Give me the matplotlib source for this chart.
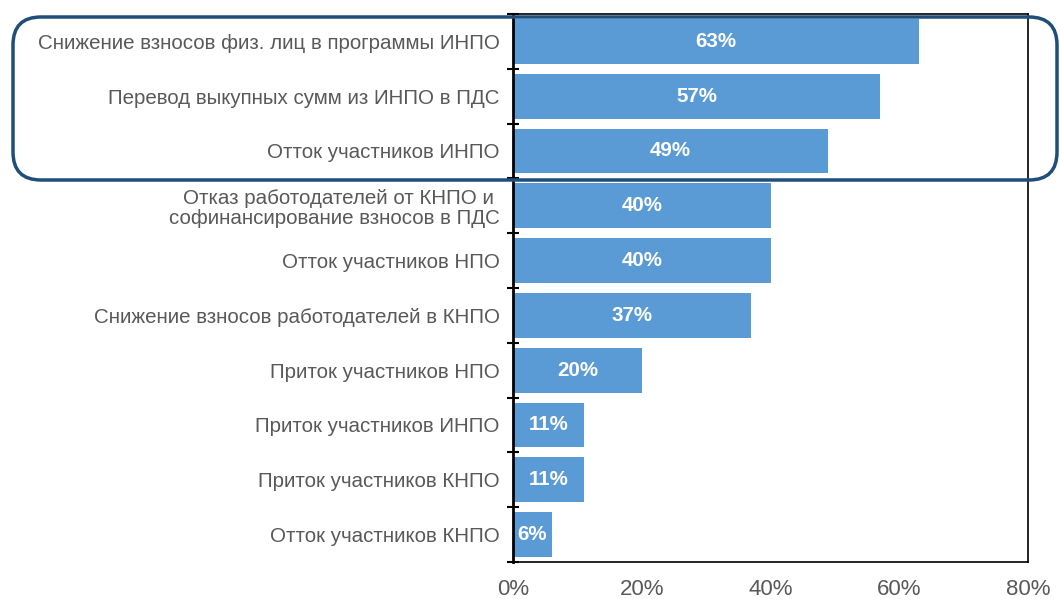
import matplotlib
matplotlib.use("Agg")
import matplotlib.pyplot as plt
from matplotlib.patches import FancyBboxPatch
from matplotlib.transforms import IdentityTransform
import numpy as np

categories = [
    "Снижение взносов физ. лиц в программы ИНПО",
    "Перевод выкупных сумм из ИНПО в ПДС",
    "Отток участников ИНПО",
    "Отказ работодателей от КНПО и \nсофинансирование взносов в ПДС",
    "Отток участников НПО",
    "Снижение взносов работодателей в КНПО",
    "Приток участников НПО",
    "Приток участников ИНПО",
    "Приток участников КНПО",
    "Отток участников КНПО",
]
values = [63, 57, 49, 40, 40, 37, 20, 11, 11, 6]
xticks = [0, 20, 40, 60, 80]

plt.rcParams['font.family'] = ['Liberation Sans', 'DejaVu Sans']

fig = plt.figure(figsize=(10.6, 5.99), dpi=100)
ax = fig.add_axes([513/1060, 1-562/599, (1028-513)/1060, (562-14)/599])

n = len(categories)
y = np.arange(n)
ax.barh(y, values, height=0.82, color='#5B9BD5', zorder=2)
ax.set_ylim(n - 0.5, -0.5)
ax.set_xlim(0, 80)

for yi, v in zip(y, values):
    ax.text(v / 2, yi, f"{v}%", ha='center', va='center', color='white',
            fontsize=14.8, fontweight='bold', zorder=3)

ax.set_yticks(y)
ax.set_yticklabels(categories, fontsize=14.8, color='#595959', linespacing=1.05)
ax.tick_params(axis='y', which='major', length=0, pad=9.5)
ax.set_yticks(np.arange(-0.5, n, 1.0), minor=True)
ax.tick_params(axis='y', which='minor', length=8, width=1.5, direction='inout', color='black')

ax.set_xticks(xticks)
ax.set_xticklabels([f"{t}%" for t in xticks], fontsize=16, color='#595959')
ax.tick_params(axis='x', length=0, pad=12)

for s in ['top', 'right', 'bottom']:
    ax.spines[s].set_linewidth(1.2)
    ax.spines[s].set_color('black')
ax.spines['left'].set_linewidth(2)
ax.spines['left'].set_color('black')

# highlight rounded rectangle (pixel coords, origin bottom-left)
x0, x1 = 13, 1057
ytop, ybot = 599 - 17, 599 - 180
box = FancyBboxPatch((x0 + 28, ybot + 28), (x1 - x0) - 56, (ytop - ybot) - 56,
                     boxstyle="round,pad=28",
                     transform=IdentityTransform(), fill=False,
                     edgecolor='#1F4E79', linewidth=2.5, zorder=10)
fig.patches.append(box)

fig.savefig("out.png", dpi=100)
